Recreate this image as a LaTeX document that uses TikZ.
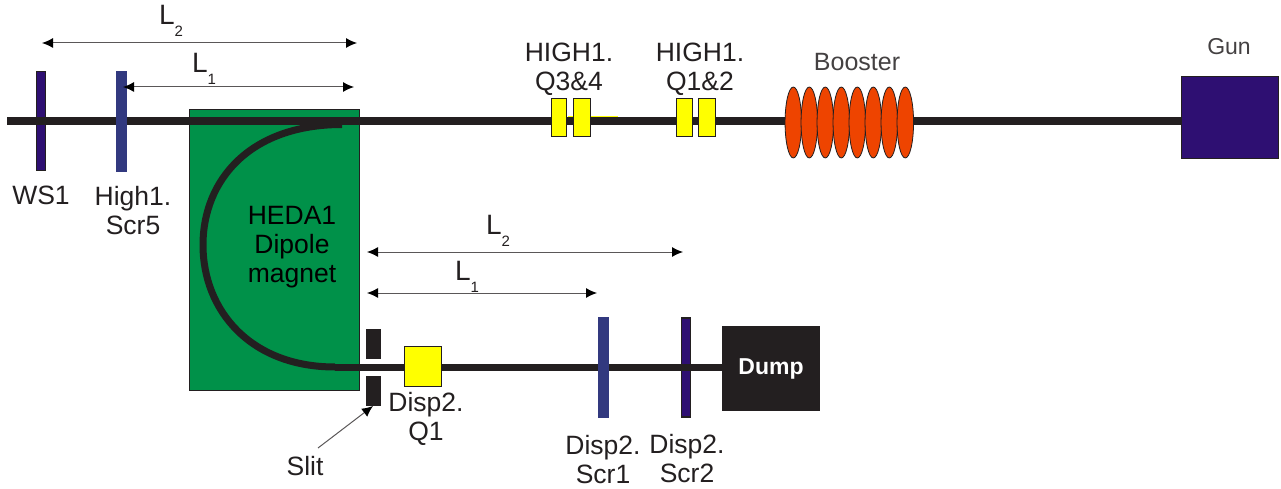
\documentclass[tikz,border=0pt]{standalone}
\usepackage{fontspec}
\setmainfont{Liberation Sans}
\usetikzlibrary{arrows.meta,positioning,shapes.geometric}
\definecolor{c1}{HTML}{009149}
\definecolor{c2}{HTML}{2E0F72}
\definecolor{c3}{HTML}{32397F}
\definecolor{c4}{HTML}{EE4400}
\definecolor{c5}{HTML}{231F20}
\definecolor{c6}{HTML}{FFFF00}
\newcommand{\Lsub}[1]{{\fontsize{28}{28}\selectfont L}\raisebox{-12pt}{\fontsize{15}{15}\selectfont #1}}

\begin{document}
\begin{tikzpicture}[x=1pt, y=-1pt, >={Latex[length=11pt,width=10pt,color=black]}, inner sep=0pt, outer sep=0pt]
\tikzset{
  every node/.style={font=\fontsize{26.5}{29}\selectfont, text=c5, align=center},
  beam/.style={draw=c5, line width=8pt},
  span/.style={<->, draw=c5!75, line width=1pt},
  indigobar/.style={draw=c5, line width=1.5pt, fill=c2, minimum width=9pt, minimum height=99pt},
  bluebar/.style={fill=c3, minimum width=11pt, minimum height=101pt},
  quad/.style={draw=c5, line width=1pt, fill=c6, minimum height=38pt},
  cavity/.style={ellipse, draw=c5, line width=0.8pt, fill=c4, minimum width=16.5pt, minimum height=71pt},
  slitjaw/.style={fill=c5, minimum width=15pt, minimum height=30pt},
}
\useasboundingbox (0,0) rectangle (1281,489);
\node[draw=c5, line width=1.5pt, fill=c1, minimum width=170pt, minimum height=281pt] (magnet) at (274.5,250) {};
\node[indigobar] (ws1) at (41,121) {};
\node[indigobar] (scr2) at (686,367.5) {};
\node[draw=c5, line width=1pt, fill=c2, minimum width=97pt, minimum height=82pt] (gun) at (1230,117.5) {};
\node[fill=c5, minimum width=98pt, minimum height=85pt, text=white, font=\fontsize{23}{27}\selectfont\bfseries] (dump) at (771,368.5) {Dump};
\coordinate (beamL) at (7,121);
\coordinate (bendA) at (342,124.5);
\coordinate (bendB) at (335,367);
\coordinate (straylineA) at (568,116.5);
\coordinate (straylineB) at (618,116.5);
% beam lines
\draw[beam] (beamL) -- (beamL -| gun.west);
\draw[beam, line width=7pt] (bendA) .. controls (250,124.5) and (203,180) .. (203,245) .. controls (203,310) and (250,367) .. (bendB);
\draw[beam, line width=7pt] (bendB) -- (bendB -| dump.west);
\draw[c6, line width=1.5pt] (straylineA) -- (straylineB);
% elements on the lines
\node[bluebar] (scr5) at (121.5,122) {};
\node[bluebar] (scr1) at (603,367.5) {};
\node[quad, minimum width=15pt] (q3) at (558.5,118) {};
\node[quad, minimum width=17pt] (q4) at (581.5,118) {};
\node[quad, minimum width=16pt] (q1) at (684,118) {};
\node[quad, minimum width=17pt] (q2) at (706.5,118) {};
\node[quad, minimum width=37pt, minimum height=40pt] (dq1) at (422.5,366) {};
\node[slitjaw] (slitup) at (373.5,344) {};
\node[slitjaw] (slitdown) at (373,391) {};
\node[cavity] (cav1) at (793.3,122.5) {};
\node[cavity, right=-0.5pt of cav1] (cav2) {};
\node[cavity, right=-0.5pt of cav2] (cav3) {};
\node[cavity, right=-0.5pt of cav3] (cav4) {};
\node[cavity, right=-0.5pt of cav4] (cav5) {};
\node[cavity, right=-0.5pt of cav5] (cav6) {};
\node[cavity, right=-0.5pt of cav6] (cav7) {};
\node[cavity, right=-0.5pt of cav7] (cav8) {};
% labels
\node[below=15pt of ws1] (ws1txt) {WS1};
\node[below=14pt of scr5, xshift=11.5pt] (scr5txt) {High1.\\Scr5};
\node (q34txt) at (569,69.5) {HIGH1.\\Q3\&4};
\node (q12txt) at (700,69.5) {HIGH1.\\Q1\&2};
\node[font=\fontsize{25}{29}\selectfont, text=c5!85] (boostertxt) at (857,62) {Booster};
\node[font=\fontsize{23}{27}\selectfont, text=c5!85] (guntxt) at (1229,47) {Gun};
\node[text=black] (magnettxt) at (292,247) {HEDA1\\Dipole\\magnet};
\node[below=6pt of dq1, xshift=3.5pt] (dq1txt) {Disp2.\\Q1};
\node[below=17pt of scr1] (scr1txt) {Disp2.\\Scr1};
\node[below=17pt of scr2, xshift=1pt] (scr2txt) {Disp2.\\Scr2};
\node (slittxt) at (305,466) {Slit};
% distances
\coordinate (topL2a) at (42,43);
\coordinate (topL2b) at (357,43);
\coordinate (topL1a) at (123,87);
\coordinate (topL1b) at (354,87);
\coordinate (lowL2a) at (367,252);
\coordinate (lowL2b) at (683,252);
\coordinate (lowL1a) at (367,293);
\coordinate (lowL1b) at (597,293);
\draw[span] (topL2a) -- (topL2b);
\draw[span] (topL1a) -- (topL1b);
\draw[span] (lowL2a) -- (lowL2b);
\draw[span] (lowL1a) -- (lowL1b);
\node (topL2txt) at (171,21) {\Lsub{2}};
\node (topL1txt) at (204,69) {\Lsub{1}};
\node (lowL2txt) at (498,231) {\Lsub{2}};
\node (lowL1txt) at (467,277) {\Lsub{1}};
\coordinate (slitarrow) at (318,448);
\draw[->, draw=c5!75, line width=1pt] (slitarrow) -- (slitdown.south);
\end{tikzpicture}
\end{document}
